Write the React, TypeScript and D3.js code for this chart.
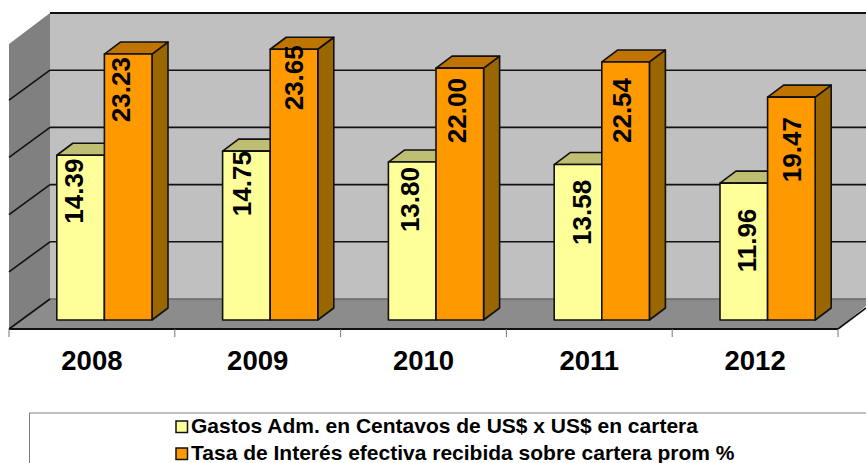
import React from "react";
import * as d3 from "d3";

const years = ["2008", "2009", "2010", "2011", "2012"];
const gastos = [14.39, 14.75, 13.8, 13.58, 11.96];
const tasa = [23.23, 23.65, 22.0, 22.54, 19.47];
const gridValues = [0, 5, 10, 15, 20, 25];
const legendLabels = [
  "Gastos Adm. en Centavos de US$ x US$ en cartera",
  "Tasa de Interés efectiva recibida sobre cartera prom %",
];
// hand-placed data label nudges seen in the reference (from bar's top-left corner)
const gastosLabelNudge: [number, number][] = [[26, 3.3], [28.5, 0], [30.7, 5], [36.7, 15.3], [35.7, 25.6]];
const tasaLabelNudge: [number, number][] = [[25.3, 3], [32.3, -4], [30, 10], [29.3, 16], [33.3, 20]];

const W = 866, H = 463;
const font = "'Liberation Sans', Arial, sans-serif";
const depthY = 30;
const barDX = 16, barDY = 12;

const x = d3.scaleLinear().domain([0, 5]).range([9, 838]);
const yFront = d3.scaleLinear().domain([0, 25]).range([320, 33.8]);
const yWall = d3.scaleLinear().domain([0, 25]).range([299, 13]);
const floorY = 329;
const barW = 47.6;

const poly = (pts: [number, number][]) => pts.map((p) => p.join(",")).join(" ");

function Bar({ x0, v, front, top, side, showSide }: { x0: number; v: number; front: string; top: string; side: string; showSide: boolean }) {
  const y0 = yFront(0), y1 = yFront(v), x1 = x0 + barW;
  const stroke = { stroke: "#111", strokeWidth: 1.6, strokeLinejoin: "round" as const };
  return (
    <g>
      {showSide && <polygon points={poly([[x1, y0], [x1 + barDX, y0 - barDY], [x1 + barDX, y1 - barDY], [x1, y1]])} fill={side} {...stroke} />}
      <polygon points={poly([[x0, y1], [x0 + barDX, y1 - barDY], [x1 + barDX, y1 - barDY], [x1, y1]])} fill={top} {...stroke} />
      <rect x={x0} y={y1} width={barW} height={y0 - y1} fill={front} {...stroke} />
    </g>
  );
}

function BarLabel({ x0, v, nudge }: { x0: number; v: number; nudge: [number, number] }) {
  return (
    <text
      transform={`translate(${x0 + nudge[0]},${yFront(v) + nudge[1]}) rotate(-90)`}
      textAnchor="end"
      fontFamily={font}
      fontWeight="bold"
      fontSize={26}
      fill="#000"
    >
      {v.toFixed(2)}
    </text>
  );
}

export default function App() {
  return (
    <svg width={W} height={H} style={{ position: "absolute", left: 0, top: 0, display: "block", background: "#fff" }}>
      <rect x={50} y={yWall(25)} width={W - 50} height={yWall(0) - yWall(25)} fill="#C0C0C0" />
      <polygon points={poly([[9, yWall(25) + depthY + 1], [50, yWall(25)], [50, yWall(0)], [9, floorY]])} fill="#808080" />
      <polygon points={poly([[9, floorY], [50, yWall(0)], [W, yWall(0)], [W, 306], [838, floorY]])} fill="#8C8C8C" />
      <line x1={50} x2={W} y1={yWall(0)} y2={yWall(0)} stroke="#666" strokeWidth={1.5} />
      {gridValues.slice(1).map((g) => (
        <g key={g}>
          <line x1={50} x2={W} y1={yWall(g)} y2={yWall(g)} stroke="#111" strokeWidth={g === 25 ? 2 : 1.6} />
          {g < 25 && <line x1={9} x2={50} y1={yWall(g) + depthY} y2={yWall(g)} stroke="#111" strokeWidth={1.6} />}
        </g>
      ))}
      <line x1={9} x2={50} y1={floorY} y2={yWall(0)} stroke="#111" strokeWidth={1.6} />
      <line x1={9} x2={838} y1={floorY} y2={floorY} stroke="#111" strokeWidth={2} />
      <line x1={838} x2={W} y1={floorY} y2={floorY - 21} stroke="#111" strokeWidth={1.6} />
      {d3.range(0, 6).map((i) => (
        <line key={i} x1={x(i)} x2={x(i)} y1={floorY} y2={337} stroke="#777" strokeWidth={1} />
      ))}
      {years.map((yr, i) => {
        const x0 = x(i) + 47.8;
        return (
          <g key={yr}>
            <Bar x0={x0} v={gastos[i]} front="#FFFF99" top="#BFBF73" side="#999966" showSide={false} />
            <Bar x0={x0 + barW} v={tasa[i]} front="#FF9900" top="#BF7300" side="#996600" showSide={true} />
            <BarLabel x0={x0} v={gastos[i]} nudge={gastosLabelNudge[i]} />
            <BarLabel x0={x0 + barW} v={tasa[i]} nudge={tasaLabelNudge[i]} />
            <text x={x(i + 0.5)} y={370} textAnchor="middle" fontFamily={font} fontWeight="bold" fontSize={27.5} fill="#000">
              {yr}
            </text>
          </g>
        );
      })}
      <rect x={29.5} y={413} width={W} height={H} fill="#fff" stroke="#808080" strokeWidth={1} />
      {legendLabels.map((l, i) => (
        <g key={l}>
          <rect x={176} y={421 + i * 27} width={11.5} height={11.5} fill={i === 0 ? "#FFFF99" : "#FF9900"} stroke="#111" strokeWidth={1.5} />
          <text x={191} y={433 + i * 27} fontFamily={font} fontWeight="bold" fontSize={21} fill="#000">
            {l}
          </text>
        </g>
      ))}
    </svg>
  );
}
